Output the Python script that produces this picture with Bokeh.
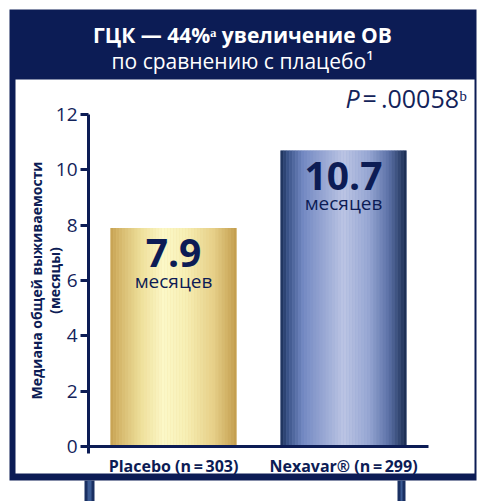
from bokeh.plotting import figure
from bokeh.models import Range1d, FixedTicker, BoxAnnotation, Label, ColumnDataSource, LinearAxis
from bokeh.core.properties import value
from bokeh.embed import file_html
from bokeh.resources import INLINE

# ---------------- data ----------------
categories = ["Placebo (n\u2009=\u2009303)", "Nexavar\u00ae (n\u2009=\u2009299)"]
median_os = [7.9, 10.7]
bar_unit = "месяцев"
y_ticks = [0, 2, 4, 6, 8, 10, 12]
title_line1 = "ГЦК — 44%ᵃ увеличение ОВ"
title_line2 = "по сравнению с плацебо¹"
p_letter = "P"
p_value_text = "=\u2009.00058ᵇ"
y_label = "Медиана общей выживаемости\n(месяцы)"

# ---------------- style / layout ----------------
NAVY = "#0c1c55"
TXT = "#13235a"
FONT = "Open Sans"
W, H = 477, 501
BAR_W = 0.74
Y_MAX = 12
X_N = len(categories)
# pixel anchors of the plotting area
AX_LEFT, AX_RIGHT, AX_BOTTOM, AX_TOP = 88, 428, 446, 114

gradients = [
    [(0.0, "#c6a151"), (0.08, "#d6b86c"), (0.25, "#efe19d"), (0.42, "#fcf8c8"),
     (0.6, "#f7efb4"), (0.82, "#e6cf88"), (1.0, "#c29c4c")],
    [(0.0, "#1b2f57"), (0.06, "#3a5388"), (0.18, "#7288c2"), (0.5, "#bcc5e4"),
     (0.7, "#97a7d3"), (0.86, "#5a70a6"), (1.0, "#182a4f")],
]
base_colors = ["#ead58f", "#8fa0cf"]


def hex2rgb(h):
    h = h.lstrip("#")
    return [int(h[i:i + 2], 16) for i in (0, 2, 4)]


def grad_color(stops, t):
    for (t0, c0), (t1, c1) in zip(stops[:-1], stops[1:]):
        if t0 <= t <= t1:
            f = (t - t0) / (t1 - t0) if t1 > t0 else 0
            a, b = hex2rgb(c0), hex2rgb(c1)
            return "#%02x%02x%02x" % tuple(round(a[i] + (b[i] - a[i]) * f) for i in range(3))
    return stops[-1][1]


xpos = [i + 0.5 for i in range(X_N)]

# ranges chosen so that the frame covers the whole canvas
ppx = (AX_RIGHT - AX_LEFT) / X_N
ppy = (AX_BOTTOM - AX_TOP) / Y_MAX
x_range = Range1d(-AX_LEFT / ppx, X_N + (W - AX_RIGHT) / ppx)
y_range = Range1d(-(H - AX_BOTTOM) / ppy, Y_MAX + AX_TOP / ppy)

p = figure(width=W, height=H, x_range=x_range, y_range=y_range,
           output_backend="svg", toolbar_location=None, x_axis_type=None, y_axis_type=None,
           min_border=0, min_border_left=0, min_border_right=0, min_border_top=0, min_border_bottom=0)
p.background_fill_color = "white"
p.border_fill_color = "white"
p.outline_line_color = None
p.grid.visible = False


def sbox(l, r, t, b, color, level="underlay"):
    # canvas pixel coords (y down) -> frame screen units (y up)
    p.add_layout(BoxAnnotation(left=l, right=r, top=H - t, bottom=H - b,
                               left_units="screen", right_units="screen",
                               top_units="screen", bottom_units="screen",
                               fill_color=color, fill_alpha=1.0, line_color=None, level=level))


def slabel(x, y, text, **kw):
    p.add_layout(Label(x=x, y=H - y, x_units="screen", y_units="screen", text=text,
                       text_baseline="middle", text_font=FONT, **kw))


# frame, header, legs
sbox(9, 476, 9, 480, NAVY)
sbox(15, 474, 79, 473, "white")
for lx, rx in [(84, 94), (397, 405)]:
    sbox(lx, rx, 480, 501, "#1a3062")
    sbox(lx + 3, rx - 3, 480, 501, "#3c5b93")

# bars
src = ColumnDataSource(dict(x=xpos, top=median_os, color=base_colors, cat=categories))
p.vbar(x="x", top="top", width=BAR_W, fill_color="color", line_color=None, source=src)

n = 42
sx, st, sc = [], [], []
for c, v, stops in zip(xpos, median_os, gradients):
    for k in range(n):
        t = (k + 0.5) / n
        sx.append(c - BAR_W / 2 + t * BAR_W)
        st.append(v)
        sc.append(grad_color(stops, t))
p.vbar(x=sx, top=st, width=BAR_W / n * 1.1, fill_color=sc, line_color=None)

# bar labels
p.text(x=xpos, y=[v - 0.92 for v in median_os], text=[f"{v}" for v in median_os],
       text_align="center", text_baseline="middle", text_color=NAVY,
       text_font=value(FONT), text_font_style="bold", text_font_size="39px")
p.text(x=xpos, y=[v - 1.9 for v in median_os], text=[bar_unit] * len(median_os),
       text_align="center", text_baseline="middle", text_color=NAVY,
       text_font=value(FONT), text_font_size="19px")

# axes (fixed inside the full-canvas frame)
xaxis = LinearAxis(fixed_location=0, bounds=(0, X_N))
xaxis.ticker = FixedTicker(ticks=xpos)
xaxis.major_label_overrides = {x: c for x, c in zip(xpos, categories)}
xaxis.axis_line_width = 3
xaxis.axis_line_color = NAVY
xaxis.major_tick_line_color = None
xaxis.minor_tick_line_color = None
xaxis.major_label_text_font = FONT
xaxis.major_label_text_font_style = "bold"
xaxis.major_label_text_font_size = "16px"
xaxis.major_label_text_color = NAVY
xaxis.major_label_standoff = 2
p.add_layout(xaxis, "below")

yaxis = LinearAxis(fixed_location=0, bounds=(0, Y_MAX))
yaxis.ticker = FixedTicker(ticks=y_ticks)
yaxis.axis_line_width = 3
yaxis.axis_line_color = NAVY
yaxis.major_tick_line_width = 3
yaxis.major_tick_line_color = NAVY
yaxis.major_tick_out = 8
yaxis.major_tick_in = 0
yaxis.minor_tick_line_color = None
yaxis.major_label_text_font = FONT
yaxis.major_label_text_font_size = "19px"
yaxis.major_label_text_color = TXT
yaxis.major_label_standoff = 3
yaxis.axis_label = y_label
yaxis.axis_label_text_font = FONT
yaxis.axis_label_text_font_style = "bold"
yaxis.axis_label_text_font_size = "14px"
yaxis.axis_label_text_line_height = 0.95
yaxis.axis_label_text_color = NAVY
yaxis.axis_label_standoff = -11
p.add_layout(yaxis, "left")

# small axis stub below origin
sbox(86.5, 89.5, 446, 453, NAVY, level="overlay")

# header texts
slabel(242, 34, title_line1, text_align="center", text_color="white",
       text_font_style="bold", text_font_size="21px")
slabel(242, 60, title_line2, text_align="center", text_color="white",
       text_font_size="21px")
# p-value
slabel(345, 97, p_letter, text_align="left", text_color=TXT,
       text_font_style="italic", text_font_size="25px")
slabel(362, 97, p_value_text, text_align="left", text_color=TXT, text_font_size="25px")

open("out.html", "w").write(file_html(p, INLINE))
